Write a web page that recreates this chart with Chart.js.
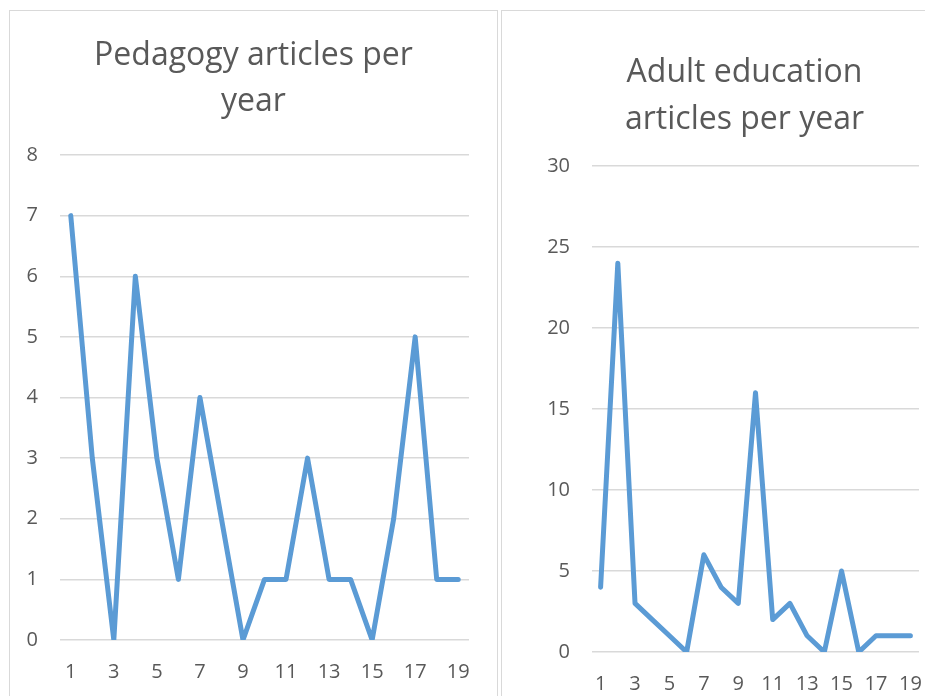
<!DOCTYPE html>
<html>
<head>
<meta charset="utf-8">
<script src="https://cdn.jsdelivr.net/npm/chart.js@4/dist/chart.umd.min.js"></script>
<style>
  html, body { margin: 0; padding: 0; background: #fff; overflow: hidden; }
  body { width: 925px; height: 696px; position: relative; }
  .box { position: absolute; top: 10px; height: 720px; border: 1px solid #d9d9d9; box-sizing: border-box; background: #fff; }
  #leftBox { left: 9px; width: 489px; }
  #rightBox { left: 501px; width: 487px; }
  .wrap { position: relative; width: 100%; }
</style>
</head>
<body>
<div class="box" id="leftBox"><div class="wrap" style="height:669px"><canvas id="pedagogyChart"></canvas></div></div>
<div class="box" id="rightBox"><div class="wrap" style="height:681px"><canvas id="adultChart"></canvas></div></div>
<script>
const years = ["1","2","3","4","5","6","7","8","9","10","11","12","13","14","15","16","17","18","19"];
const pedagogyCounts = [7, 3, 0, 6, 3, 1, 4, 2, 0, 1, 1, 3, 1, 1, 0, 2, 5, 1, 1];
const adultCounts = [4, 24, 3, 2, 1, 0, 6, 4, 3, 16, 2, 3, 1, 0, 5, 0, 1, 1, 1];
const pedagogyTitle = ["Pedagogy articles per", "year"];
const adultTitle = ["Adult education", "articles per year"];

const textColor = "#595959";
const gridColor = "#d9d9d9";
const lineColor = "#5b9bd5";
const fontFamily = "'Open Sans', sans-serif";

function makeChart(id, values, title, yMax, yStep, opts) {
  const ctx = document.getElementById(id).getContext("2d");
  return new Chart(ctx, {
    type: "line",
    data: {
      labels: years,
      datasets: [
        {
          data: values,
          borderColor: lineColor,
          borderWidth: 5,
          borderJoinStyle: "round",
          borderCapStyle: "round",
          pointRadius: 0,
          tension: 0,
          fill: false,
        },
      ],
    },
    options: {
      responsive: true,
      maintainAspectRatio: false,
      animation: false,
      layout: { padding: 0 },
      plugins: {
        legend: { display: false },
        tooltip: { enabled: false },
        title: {
          display: true,
          text: title,
          color: textColor,
          font: { family: fontFamily, size: 32, weight: "normal", lineHeight: opts.titleLine + "px" },
          padding: { top: opts.titleTop, bottom: opts.titleBottom },
        },
      },
      scales: {
        x: {
          offset: true,
          grid: { display: false, drawTicks: false },
          border: { display: false },
          afterFit: (scale) => { scale.height = 40; },
          ticks: {
            color: textColor,
            font: { family: fontFamily, size: 20 },
            padding: 20,
            autoSkip: false,
            maxRotation: 0,
            callback: function (value, index) {
              return index % 2 === 0 ? this.getLabelForValue(value) : "";
            },
          },
        },
        y: {
          min: 0,
          max: yMax,
          grid: { color: gridColor, lineWidth: 1.4, drawTicks: false },
          border: { display: false },
          afterFit: (scale) => { scale.width = opts.yWidth; },
          ticks: {
            stepSize: yStep,
            color: textColor,
            font: { family: fontFamily, size: 20 },
            padding: 22,
          },
        },
        // empty right-hand axis only keeps space so the title stays centred on the box
        spacer: {
          position: "right",
          grid: { display: false, drawTicks: false },
          border: { display: false },
          ticks: { display: false },
          afterFit: (scale) => { scale.width = opts.padRight; },
        },
      },
    },
  });
}

makeChart("pedagogyChart", pedagogyCounts, pedagogyTitle, 8, 1, {
  padRight: 28, yWidth: 50, titleLine: 46, titleTop: 22, titleBottom: 30,
});
makeChart("adultChart", adultCounts, adultTitle, 30, 5, {
  padRight: 68, yWidth: 90, titleLine: 47, titleTop: 38, titleBottom: 23,
});
</script>
</body>
</html>
